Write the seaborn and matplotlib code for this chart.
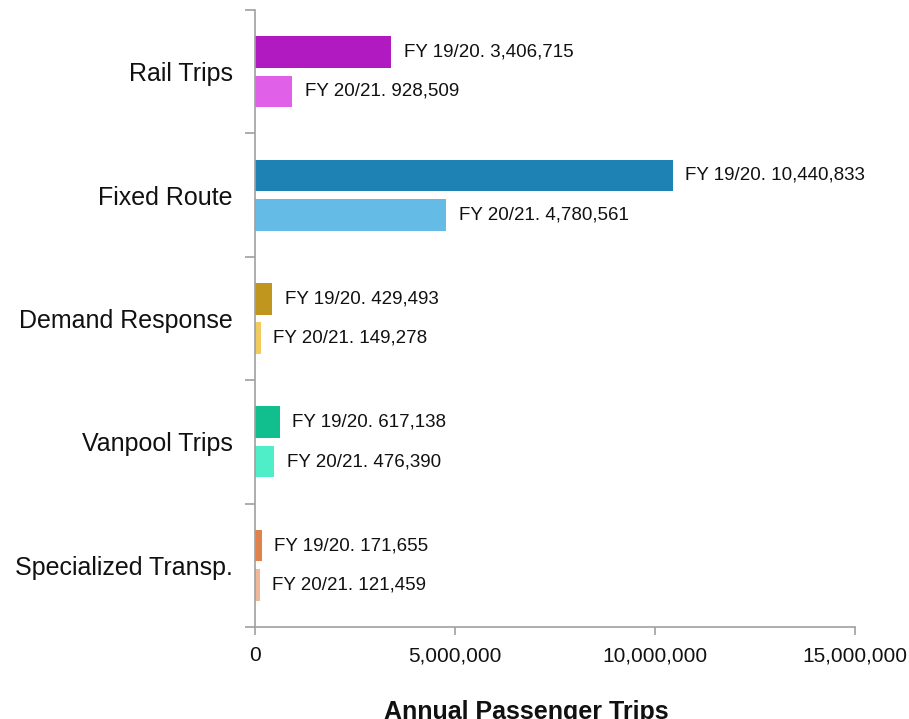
import matplotlib
matplotlib.use("Agg")
import matplotlib.pyplot as plt
import seaborn as sns
import pandas as pd
from matplotlib.ticker import FuncFormatter, FixedLocator

categories = ["Rail Trips", "Fixed Route", "Demand Response", "Vanpool Trips", "Specialized Transp."]
years = ["FY 19/20", "FY 20/21"]
trips_1920 = [3406715, 10440833, 429493, 617138, 171655]
trips_2021 = [928509, 4780561, 149278, 476390, 121459]

dark_colors = ["#B01AC0", "#1F82B4", "#C0961E", "#10BE8E", "#E0824A"]
light_colors = ["#E060E8", "#64BBE6", "#F0CC60", "#50EEC8", "#F0B898"]

df = pd.DataFrame({
    "category": categories * 2,
    "year": [years[0]] * len(categories) + [years[1]] * len(categories),
    "trips": trips_1920 + trips_2021,
})

sns.set_style("white")
plt.rcParams["font.family"] = ["Liberation Sans", "DejaVu Sans"]

fig = plt.figure(figsize=(9.09, 7.19), dpi=100)
ax = fig.add_axes([0.2805, 0.128, 0.66, 0.858])

sns.barplot(data=df, y="category", x="trips", hue="year", orient="h",
            order=categories, hue_order=years, width=0.64, gap=0.2,
            palette=["#888888", "#bbbbbb"], legend=False, ax=ax, saturation=1)

for container, cols, vals, yr in zip(ax.containers, [dark_colors, light_colors],
                                     [trips_1920, trips_2021], years):
    for bar, c in zip(container, cols):
        bar.set_facecolor(c)
        bar.set_edgecolor("none")
    ax.bar_label(container, labels=[f"{yr}. {v:,}" for v in vals],
                 padding=9, fontsize=13.5, color="#111111")

ax.set_xlim(0, 15000000)
ax.set_ylim(len(categories) - 0.5, -0.5)
ax.set_xticks([0, 5000000, 10000000, 15000000])
ax.xaxis.set_major_formatter(FuncFormatter(lambda v, p: f"{int(v):,}"))
ax.yaxis.set_minor_locator(FixedLocator([i - 0.5 for i in range(len(categories) + 1)]))

for side in ["top", "right"]:
    ax.spines[side].set_visible(False)
for side in ["left", "bottom"]:
    ax.spines[side].set_color("#A0A0A0")
    ax.spines[side].set_linewidth(1.2)

ax.tick_params(axis="y", which="major", left=True, length=0, pad=16, labelsize=18,
               labelcolor="#111111")
ax.tick_params(axis="y", which="minor", left=True, length=7, width=1.2, color="#A0A0A0",
               direction="out")
ax.tick_params(axis="x", which="major", bottom=True, length=6, width=1.2, color="#A0A0A0",
               direction="out", pad=8, labelsize=15, labelcolor="#111111")

ax.set_ylabel("")
ax.set_xlabel("Annual Passenger Trips", fontsize=18, fontweight="bold", color="#111111")
ax.xaxis.set_label_coords(0.453, -0.118)

fig.savefig("out.png", dpi=100)
